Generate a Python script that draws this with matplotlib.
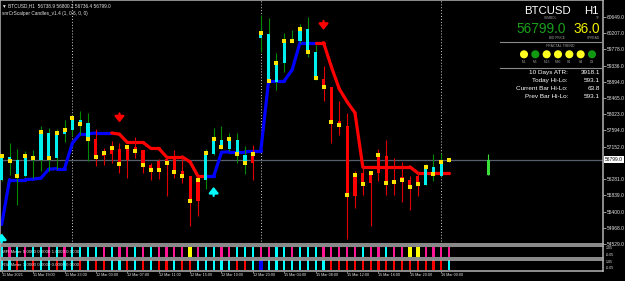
import matplotlib
matplotlib.use("Agg")
import matplotlib.pyplot as plt
import numpy as np

plt.rcParams['font.family'] = ['Liberation Sans', 'DejaVu Sans']

# ---------------- data ----------------
symbol = "BTCUSD"
timeframe = "H1"
bid_price = 56799.0
spread = 36.0

opens = [56242, 56866, 56799, 56350, 56786, 56799, 57517, 56845, 57498, 57606,
         57875, 57786, 57356, 56888, 56960, 57087, 56799, 57135, 57049, 56665,
         56753, 56812, 56888, 56484, 56350, 55677, 56261, 56960, 57337, 57087,
         57337, 56934, 56710, 60073, 60188, 58905, 59400, 59973, 60008, 60315,
         59712, 58970, 58771, 57829, 57714, 55831, 56441, 56172, 56441, 56888,
         56261, 56342, 56261, 56369, 56127, 56611, 56369, 56738.9]
highs = [56900, 57248, 57087, 57022, 57068, 57695, 57652, 57625, 57875, 58010,
         58098, 58055, 57625, 57114, 57291, 57248, 57162, 57410, 57068, 56710,
         56818, 56853, 57068, 56888, 56355, 56261, 57087, 57652, 57714, 57517,
         57517, 57157, 57203, 60700, 60619, 59685, 60223, 60296, 60457, 60646,
         59892, 59328, 58771, 58367, 58055, 56484, 56638, 56484, 57087, 57337,
         56845, 56726, 56350, 56441, 56691, 56960, 56979, 56800.2]
lows = [56230, 56396, 55589, 56342, 56307, 56484, 56484, 56557, 57283, 57445,
        57472, 56753, 56619, 56665, 56718, 56441, 56307, 56845, 56441, 56261,
        56280, 55812, 56307, 56172, 55005, 55293, 56011, 56934, 57087, 57022,
        56710, 56422, 56261, 59712, 58905, 58682, 59174, 59938, 59954, 59578,
        58951, 58367, 57248, 57472, 54647, 55508, 55858, 55005, 56234, 55858,
        55858, 55650, 55454, 55812, 56127, 56215, 56369, 56736.4]
closes = [56888, 56772, 56350, 56888, 56853, 57533, 56845, 57517, 57593, 57915,
          57767, 57364, 56866, 56987, 57122, 56691, 57141, 57041, 56665, 56530,
          56511, 56705, 56476, 56350, 55683, 56242, 56979, 57356, 57149, 57356,
          56942, 56718, 56960, 60202, 58924, 59416, 60008, 60000, 60315, 59696,
          58997, 58755, 57821, 57722, 55839, 56377, 56153, 56441, 56920, 56172,
          56199, 56261, 56065, 56153, 56603, 56422, 56745, 56799.0]
# c = bullish (cyan) body, r = bearish (red) body
body_trend = ("cccccccccccc" "rrrrrrrrrrrrrr" "cccccc" "r" "cccccccc"
              "rrrrrrrrrrrrr" "cccc")

trend_line = [55050, 56261, 56261, 56261, 56274, 56301, 56543, 56557, 56557, 57243,
              57498, 57498, 57517, 57517, 57517, 57485, 57264, 57264, 57264, 57103,
              57103, 56872, 56872, 56872, 56740, 56350, 56350, 56350, 56995, 57014,
              57014, 57014, 57022, 57022, 58924, 58924, 58924, 59220, 59954, 59954,
              59954, 59954, 59301, 58709, 58359, 58063, 56603, 56603, 56603, 56603,
              56603, 56603, 56603, 56441, 56441, 56441, 56441, 56441]
trend_state = "u" * 15 + "d" * 12 + "u" * 14 + "d" * 17

meter1_colors = "cpcpccpcpcc" + "ccpcppcpcppppypccppcccppccpccc" + "pppppcppcppyypppp"
meter2_colors = "ccrcrccrccr" + "crrccrcrcrrcrrcccccrrcbccccccc" + "c" + "r" * 15 + "c"
meter1_label = "MFI Meter 0.0000 0.0000 1.0000 0.0000"
meter2_label = "RSI Meter 1.0000 0.0000 0.0000 0.0000"

time_label_bars = [0, 4, 8, 12, 16, 20, 24, 28, 32, 36, 40, 44, 48, 52, 56]
time_labels = ["11 Mar 2021", "11 Mar 19:00", "11 Mar 23:00", "12 Mar 03:00",
               "12 Mar 07:00", "12 Mar 11:00", "12 Mar 15:00", "12 Mar 19:00",
               "12 Mar 23:00", "15 Mar 04:00", "15 Mar 08:00", "15 Mar 12:00",
               "15 Mar 16:00", "15 Mar 20:00", "16 Mar 00:00"]
day_separator_bars = [9, 33, 56]
price_ticks = [60649, 60207, 59778, 59336, 58894, 58465, 58023, 57594, 57152,
               56281, 55839, 55400, 54968, 54529]

arrow_bars = [0, 15, 27, 41]
arrow_prices = [54808, 57802, 56065, 60296]
arrow_dirs = ["up", "down", "up", "down"]

htf_bar = 62
htf_ohlc = [56377, 56960, 56377, 56799]

fractal_tf = ["M1", "M5", "M15", "M30", "H1", "H4", "D1"]
fractal_state = ["yellow", "green", "yellow", "yellow", "yellow", "yellow", "green"]
stats_labels = ["10 Days ATR:", "Today Hi-Lo:", "Current Bar Hi-Lo:", "Prev Bar Hi-Lo:"]
stats_values = [3918.1, 593.1, 63.8, 593.1]
header_line = "\u25bc BTCUSD,H1  56738.9 56800.2 56736.4 56799.0"
indicator_line = "snrCrScalper Candles_v1.4 (1, 0.6, 0, 0)"

# ---------------- layout ----------------
W, H = 625, 281
fig = plt.figure(figsize=(W / 100, H / 100), dpi=100, facecolor='black')


def fr(l, t, r, b):
    return [l / W, 1 - b / H, (r - l) / W, (b - t) / H]


ax = fig.add_axes(fr(0, 0, 603, 244))
ax1 = fig.add_axes(fr(0, 246, 603, 257.5))
ax2 = fig.add_axes(fr(0, 259.5, 603, 271))
XLIM = (-0.217, 76.6)
SPINE = '#b4b4b4'
TXT = '#e6e6e6'

for a in (ax, ax1, ax2):
    a.set_facecolor('black')
    a.set_xlim(*XLIM)
    for s in a.spines.values():
        s.set_color(SPINE)
        s.set_linewidth(1.1)
    a.tick_params(axis='x', which='both', bottom=False, labelbottom=False)

ax.set_ylim(54525, 61103)

n = len(opens)
xs = np.arange(n)

# day separators
for b in day_separator_bars:
    ax.axvline(b, color='#d0d0d0', lw=0.7, ls=(0, (1, 2)), zorder=1)

# current price line
ax.axhline(bid_price, color='#56606c', lw=0.9, zorder=1)

# trend line
for i in range(1, n):
    col = '#0000FF' if trend_state[i] == 'u' else '#FF0000'
    ax.plot([i - 1, i], [trend_line[i - 1], trend_line[i]], color=col, lw=2.3,
            solid_capstyle='round', zorder=2)

# candles
for i in range(n):
    bull = body_trend[i] == 'c'
    wick_c = '#008a00' if bull else '#E00000'
    body_c = '#00F0F0' if bull else '#FF0000'
    ax.vlines(i, lows[i], highs[i], color=wick_c, lw=0.8, zorder=3)
    lo, hi = min(opens[i], closes[i]), max(opens[i], closes[i])
    ax.bar(i, max(hi - lo, 22), bottom=lo, width=0.4, color=body_c, zorder=4,
           linewidth=0)
ax.plot(xs, closes, 's', color='#FFE400', ms=2.2, mew=0, zorder=5)

# higher timeframe candle
o, h, l, c = htf_ohlc
ax.vlines(htf_bar, l, h, color='#3ADF3A', lw=0.8, zorder=3)
ax.bar(htf_bar, c - o, bottom=o, width=0.4, color='#3ADF3A', zorder=4, linewidth=0)

# arrows
for b, p, d in zip(arrow_bars, arrow_prices, arrow_dirs):
    col = '#00FFFF' if d == 'up' else '#FF0000'
    dy = -6.5 if d == 'up' else 6.5
    ax.annotate('', xy=(b, p), xytext=(0, dy), textcoords='offset points',
                arrowprops=dict(arrowstyle='-|>,head_length=0.35,head_width=0.28',
                                lw=1.6, color=col, shrinkA=0, shrinkB=0),
                zorder=6, annotation_clip=False)

# price axis
ax.yaxis.set_ticks_position('right')
ax.set_yticks(price_ticks)
ax.set_yticklabels([f"{v:.1f}" for v in price_ticks])
ax.tick_params(axis='y', length=2, width=0.6, color=SPINE, labelsize=3.5,
               labelcolor=TXT, pad=1)
ax.annotate(f"{bid_price:.1f}", xy=(1, bid_price), xycoords=('axes fraction', 'data'),
            xytext=(1.5, 0), textcoords='offset points', va='center', ha='left',
            fontsize=3.5, color='black',
            bbox=dict(boxstyle='square,pad=0.25', fc='white', ec='none'),
            annotation_clip=False)

# header texts
ax.text(0.004, 0.985, header_line, transform=ax.transAxes, fontsize=3.4,
        color=TXT, va='top', ha='left')
ax.text(0.004, 0.953, indicator_line, transform=ax.transAxes, fontsize=3.4,
        color=TXT, va='top', ha='left')

# meters
cmap = {'c': '#00FFFF', 'p': '#FF1493', 'y': '#FFFF00', 'r': '#FF0000', 'b': '#0000FF'}
for a, colors, label in ((ax1, meter1_colors, meter1_label),
                         (ax2, meter2_colors, meter2_label)):
    a.set_ylim(-0.08, 1.08)
    for i, ch in enumerate(colors):
        w = 0.5 if ch in 'yb' else 0.27
        a.bar(i, 1, width=w, bottom=0, color=cmap[ch], linewidth=0, zorder=2)
    a.set_yticks([])
    a.text(0.004, 0.5, label, transform=a.transAxes, fontsize=3.2, color=TXT,
           va='center', ha='left', zorder=5)
    a.text(1.004, 0.8, "1.05", transform=a.transAxes, fontsize=2.6, color=TXT,
           va='center', ha='left')
    a.text(1.004, 0.25, "-0.05", transform=a.transAxes, fontsize=2.6, color=TXT,
           va='center', ha='left')

# time axis
ax2.set_xticks(time_label_bars)
ax2.tick_params(axis='x', bottom=True, length=1.5, width=0.5, color=SPINE)
for b, lab in zip(time_label_bars, time_labels):
    ax2.annotate(lab, xy=(b, 0), xycoords=('data', 'axes fraction'),
                 xytext=(0, -1.3), textcoords='offset points', va='top', ha='left',
                 fontsize=2.7, color=TXT, annotation_clip=False)

# info panel overlay (pixel coordinates)
ov = fig.add_axes([0, 0, 1, 1])
ov.set_xlim(0, W)
ov.set_ylim(H, 0)
ov.axis('off')
ov.patch.set_alpha(0)

ov.text(524, 13.5, symbol, fontsize=8.2, color='white', ha='left', va='baseline')
ov.text(599, 13.5, timeframe, fontsize=8.2, color='white', ha='right', va='baseline')
ov.text(557, 17.6, "SYMBOL", fontsize=2.3, color='#a0a0a0', ha='right', va='center')
ov.text(600, 17.6, "TF", fontsize=2.3, color='#a0a0a0', ha='right', va='center')
ov.text(566, 32.6, f"{bid_price:.1f}", fontsize=9.8, color='#1aa01a', ha='right',
        va='baseline')
ov.text(600, 32.6, f"{spread:.1f}", fontsize=9.8, color='#f0f000', ha='right',
        va='baseline')
ov.text(565, 37.7, "BID PRICE", fontsize=2.3, color='#a0a0a0', ha='right', va='center')
ov.text(600, 37.7, "SPREAD", fontsize=2.3, color='#a0a0a0', ha='right', va='center')
ov.plot([500, 601], [41.5, 41.5], color='#8a8a8a', lw=0.8)
ov.text(560, 45.8, "FRACTAL TREND", fontsize=2.5, color='#a0a0a0', ha='center',
        va='center')
cx = [524 + 11.33 * k for k in range(len(fractal_tf))]
ccol = ['#FFFF20' if s == 'yellow' else '#119911' for s in fractal_state]
ov.scatter(cx, [54.3] * len(cx), s=34, c=ccol, linewidths=0)
for xk, t in zip(cx, fractal_tf):
    ov.text(xk, 62, t, fontsize=2.3, color='#a0a0a0', ha='center', va='center')
ov.plot([500, 601], [67.5, 67.5], color='#8a8a8a', lw=0.8)
for k, (lab, val) in enumerate(zip(stats_labels, stats_values)):
    yk = 72.8 + 7.75 * k
    ov.text(568, yk, lab, fontsize=4.6, color='white', ha='right', va='center')
    ov.text(600, yk, f"{val:.1f}", fontsize=4.6, color='white', ha='right', va='center')

fig.savefig("out.png", dpi=100, facecolor='black')
